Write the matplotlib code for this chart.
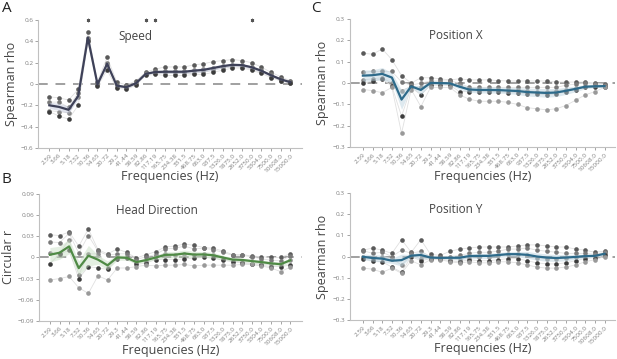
import numpy as np
import matplotlib
matplotlib.use("Agg")
import matplotlib.pyplot as plt

plt.rcParams['font.family'] = ['Open Sans', 'DejaVu Sans']

freqs = ["2.59", "3.66", "5.18", "7.32", "10.36", "14.65", "20.72", "29.3",
         "41.44", "58.59", "82.86", "117.19", "165.75", "234.38", "331.5",
         "468.75", "663.0", "937.5", "1326.0", "1875.0", "2652.0", "3750.0",
         "5304.0", "7500.0", "10608.0", "15000.0"]

# one row per frequency, one column per animal
speed = [
    [-0.12, -0.17, -0.25, -0.26],
    [-0.13, -0.17, -0.26, -0.30],
    [-0.15, -0.22, -0.27, -0.33],
    [-0.05, -0.08, -0.12, -0.20],
    [0.49, 0.43, 0.42, 0.40],
    [0.02, 0.00, -0.01, -0.02],
    [0.25, 0.20, 0.18, 0.13],
    [0.02, -0.01, -0.03, -0.04],
    [-0.01, -0.02, -0.04, -0.05],
    [0.03, 0.01, 0.00, -0.01],
    [0.11, 0.10, 0.09, 0.08],
    [0.14, 0.12, 0.10, 0.09],
    [0.16, 0.12, 0.10, 0.08],
    [0.16, 0.12, 0.10, 0.08],
    [0.16, 0.12, 0.10, 0.08],
    [0.18, 0.13, 0.10, 0.09],
    [0.19, 0.14, 0.11, 0.09],
    [0.21, 0.15, 0.13, 0.11],
    [0.22, 0.17, 0.15, 0.13],
    [0.23, 0.18, 0.16, 0.15],
    [0.22, 0.18, 0.16, 0.15],
    [0.20, 0.16, 0.14, 0.13],
    [0.16, 0.13, 0.11, 0.10],
    [0.11, 0.09, 0.07, 0.06],
    [0.07, 0.05, 0.03, 0.03],
    [0.03, 0.02, 0.01, 0.01],
]
speed_sig = ["10.36", "82.86", "117.19", "3750.0"]

head_dir = [
    [0.032, 0.022, 0.006, -0.009, -0.032],
    [0.031, 0.021, 0.006, 0.005, -0.030],
    [0.036, 0.034, 0.025, 0.010, -0.027],
    [0.016, 0.006, -0.025, -0.030, -0.043],
    [0.040, 0.031, 0.005, -0.013, -0.051],
    [0.011, 0.009, 0.005, -0.015, -0.026],
    [0.005, 0.003, -0.015, -0.017, -0.032],
    [0.012, 0.005, 0.000, -0.002, -0.015],
    [0.007, 0.005, 0.001, -0.001, -0.015],
    [-0.001, -0.003, -0.006, -0.010, -0.013],
    [0.004, 0.001, -0.005, -0.008, -0.011],
    [0.008, 0.004, 0.002, -0.003, -0.012],
    [0.015, 0.012, 0.005, -0.003, -0.011],
    [0.016, 0.013, 0.004, -0.003, -0.011],
    [0.019, 0.016, 0.005, -0.002, -0.010],
    [0.017, 0.012, 0.004, -0.001, -0.012],
    [0.014, 0.013, 0.005, 0.000, -0.011],
    [0.013, 0.011, 0.003, -0.001, -0.011],
    [0.009, 0.007, -0.002, -0.004, -0.011],
    [0.004, 0.003, -0.005, -0.006, -0.011],
    [0.004, 0.003, -0.007, -0.008, -0.010],
    [0.002, 0.001, -0.009, -0.010, -0.010],
    [0.001, -0.002, -0.009, -0.011, -0.012],
    [0.000, -0.004, -0.010, -0.013, -0.015],
    [0.000, -0.005, -0.010, -0.013, -0.020],
    [0.005, 0.002, -0.003, -0.011, -0.014],
]

pos_x = [
    [0.140, 0.050, 0.015, 0.000, -0.030],
    [0.135, 0.055, 0.020, 0.010, -0.035],
    [0.160, 0.055, 0.025, 0.020, -0.045],
    [0.110, 0.055, 0.000, -0.015, -0.020],
    [0.035, 0.005, -0.035, -0.155, -0.235],
    [0.000, -0.010, -0.015, -0.020, -0.030],
    [0.025, 0.000, -0.020, -0.055, -0.110],
    [0.025, 0.010, 0.000, -0.010, -0.020],
    [0.020, 0.010, 0.000, -0.010, -0.020],
    [0.015, 0.010, 0.000, -0.010, -0.020],
    [0.020, 0.000, -0.010, -0.040, -0.055],
    [0.015, -0.020, -0.030, -0.040, -0.075],
    [0.015, -0.020, -0.030, -0.040, -0.085],
    [0.015, -0.020, -0.030, -0.040, -0.085],
    [0.012, -0.020, -0.030, -0.040, -0.085],
    [0.010, -0.020, -0.030, -0.045, -0.090],
    [0.010, -0.020, -0.030, -0.045, -0.100],
    [0.010, -0.020, -0.035, -0.050, -0.115],
    [0.010, -0.020, -0.040, -0.050, -0.120],
    [0.010, -0.020, -0.040, -0.055, -0.125],
    [0.005, -0.020, -0.035, -0.050, -0.120],
    [0.005, -0.010, -0.030, -0.040, -0.105],
    [0.005, -0.005, -0.025, -0.030, -0.080],
    [0.005, 0.000, -0.015, -0.020, -0.055],
    [0.000, -0.005, -0.010, -0.020, -0.040],
    [-0.005, -0.010, -0.015, -0.020, -0.020],
]

pos_y = [
    [0.030, 0.028, 0.000, -0.010, -0.055],
    [0.040, 0.015, -0.010, -0.020, -0.060],
    [0.030, 0.020, 0.000, -0.025, -0.075],
    [0.015, 0.000, -0.010, -0.050, -0.055],
    [0.080, 0.030, -0.040, -0.075, -0.080],
    [0.020, 0.015, 0.005, 0.000, -0.020],
    [0.080, 0.025, -0.010, -0.020, -0.040],
    [0.010, 0.000, -0.010, -0.010, -0.015],
    [0.005, 0.000, -0.010, -0.012, -0.015],
    [0.025, 0.000, -0.010, -0.020, -0.025],
    [0.035, 0.005, -0.015, -0.025, -0.030],
    [0.040, 0.015, -0.005, -0.015, -0.025],
    [0.045, 0.020, 0.000, -0.020, -0.030],
    [0.045, 0.020, 0.000, -0.020, -0.030],
    [0.045, 0.025, 0.005, -0.015, -0.025],
    [0.045, 0.035, 0.010, -0.010, -0.025],
    [0.050, 0.035, 0.010, -0.010, -0.030],
    [0.055, 0.040, 0.005, -0.020, -0.040],
    [0.055, 0.030, -0.005, -0.030, -0.050],
    [0.050, 0.025, -0.010, -0.035, -0.055],
    [0.045, 0.020, -0.010, -0.035, -0.055],
    [0.045, 0.015, -0.005, -0.030, -0.050],
    [0.035, 0.015, 0.000, -0.020, -0.040],
    [0.030, 0.015, 0.000, -0.010, -0.025],
    [0.020, 0.010, 0.005, -0.005, -0.015],
    [0.025, 0.020, 0.015, 0.005, 0.000],
]

dot_greys = ["#5a5a5a", "#787878", "#8a8a8a", "#3c3c3c", "#999999"]


def panel(fig, rect, data, title, ylabel, ylim, yticks, ytlabels, color,
          band, xlim, tx, sig=None):
    ax = fig.add_axes(rect)
    data = np.array(data)
    x = np.arange(len(freqs))
    ax.axhline(0, color="#a0a0a0", lw=1.4, ls=(0, (5, 4)), zorder=1)
    for j in range(data.shape[1]):
        ax.plot(x, data[:, j], color="#e0e0e0", lw=0.6, zorder=2)
        ax.scatter(x, data[:, j], s=11, color=dot_greys[j], lw=0, zorder=3)
    m = data.mean(axis=1)
    sem = data.std(axis=1) / np.sqrt(data.shape[1])
    ax.fill_between(x, m - sem, m + sem, color=band, alpha=0.45, lw=0,
                    zorder=4)
    ax.plot(x, m, color=color, lw=1.6, zorder=5)
    if sig:
        for f in sig:
            ax.plot(freqs.index(f), ylim[1], marker=(6, 2, 0), ms=2.5,
                    color="#555555", mew=0.6, clip_on=False, zorder=6)
    ax.set_xlim(xlim)
    ax.set_ylim(ylim)
    ax.set_yticks(yticks)
    ax.set_yticklabels(ytlabels)
    ax.set_xticks(x)
    ax.set_xticklabels(freqs, rotation=45, ha="right", rotation_mode="anchor")
    ax.tick_params(labelsize=4.6, colors="#808080", length=2, width=0.5,
                   pad=1.5)
    for s in ["top", "right"]:
        ax.spines[s].set_visible(False)
    for s in ["left", "bottom"]:
        ax.spines[s].set_color("#c0c0c0")
        ax.spines[s].set_linewidth(0.8)
    ax.set_xlabel("Frequencies (Hz)", fontsize=9, color="#444444",
                  labelpad=-2)
    ax.set_ylabel(ylabel, fontsize=9, color="#444444", labelpad=2)
    ax.text(tx, 0.87, title, transform=ax.transAxes, fontsize=8.5,
            color="#444444", ha="center", va="center")
    return ax


fig = plt.figure(figsize=(6.17, 3.59), dpi=100)

panel(fig, [0.062, 0.588, 0.427, 0.356], speed, "Speed", "Spearman rho",
      (-0.6, 0.6), [-0.6, -0.4, -0.2, 0, 0.2, 0.4, 0.6],
      ["\u22120.6", "\u22120.4", "\u22120.2", "0", "0.2", "0.4", "0.6"],
      "#3e4158", "#b9c0d6", (-1.15, 26.2), 0.37, sig=speed_sig)
panel(fig, [0.063, 0.106, 0.426, 0.354], head_dir, "Head Direction",
      "Circular r", (-0.09, 0.09),
      [-0.09, -0.06, -0.03, 0, 0.03, 0.06, 0.09],
      ["\u22120.09", "\u22120.06", "\u22120.03", "0", "0.03", "0.06", "0.09"],
      "#4f8a45", "#c4dcc0", (-1.15, 26.2), 0.45)
panel(fig, [0.567, 0.590, 0.43, 0.357], pos_x, "Position X", "Spearman rho",
      (-0.3, 0.3), [-0.3, -0.2, -0.1, 0, 0.1, 0.2, 0.3],
      ["\u22120.3", "\u22120.2", "\u22120.1", "0", "0.1", "0.2", "0.3"],
      "#2d6a8a", "#b6cfdc", (-1.35, 26.1), 0.4)
panel(fig, [0.567, 0.109, 0.43, 0.353], pos_y, "Position Y", "Spearman rho",
      (-0.3, 0.3), [-0.3, -0.2, -0.1, 0, 0.1, 0.2, 0.3],
      ["\u22120.3", "\u22120.2", "\u22120.1", "0", "0.1", "0.2", "0.3"],
      "#2d6a8a", "#b6cfdc", (-1.35, 26.1), 0.4)

for lbl, xx, yy in [("A", 0.003, 0.975), ("B", 0.003, 0.50),
                    ("C", 0.505, 0.975)]:
    fig.text(xx, yy, lbl, fontsize=11, color="#222222", va="center")

fig.savefig("out.png", dpi=100)
